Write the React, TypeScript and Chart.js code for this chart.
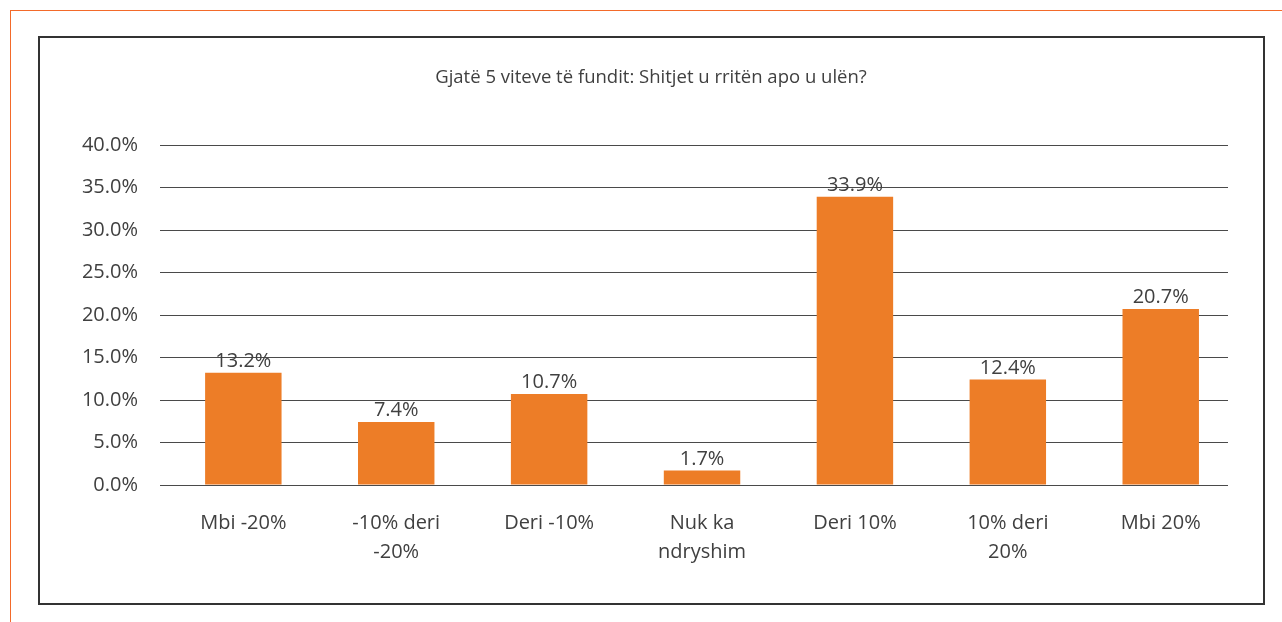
import React, { useEffect, useRef } from "react";
import { Chart, registerables } from "chart.js";

Chart.register(...registerables);

const TITLE = "Gjatë 5 viteve të fundit: Shitjet u rritën apo u ulën?";
const categories: string[][] = [
  ["Mbi -20%"],
  ["-10% deri", "-20%"],
  ["Deri -10%"],
  ["Nuk ka", "ndryshim"],
  ["Deri 10%"],
  ["10% deri", "20%"],
  ["Mbi 20%"],
];
const values: number[] = [13.2, 7.4, 10.7, 1.7, 33.9, 12.4, 20.7];
const yMin = 0;
const yMax = 40;
const yStep = 5;

const FONT = "'Open Sans', 'Noto Sans', sans-serif";
const TEXT = "#404040";
const BAR = "#ED7D27";

const labelsPlugin = {
  id: "extras",
  afterDatasetsDraw(chart: any) {
    const ctx = chart.ctx;
    ctx.save();
    ctx.fillStyle = TEXT;
    ctx.font = `20px ${FONT}`;
    ctx.textAlign = "center";
    ctx.textBaseline = "alphabetic";
    const meta = chart.getDatasetMeta(0);
    meta.data.forEach((bar: any, i: number) => {
      ctx.fillText(values[i].toFixed(1) + "%", bar.x, bar.y - 6);
    });
    ctx.font = `18.5px ${FONT}`;
    ctx.textBaseline = "middle";
    ctx.fillText(TITLE, 651, 78);
    ctx.restore();
  },
};

export default function App() {
  const ref = useRef<HTMLCanvasElement>(null);
  useEffect(() => {
    if (!ref.current) return;
    const points = values.map((v, i) => ({ x: i, y: v }));
    const chart = new Chart(ref.current, {
      type: "bar",
      data: {
        datasets: [
          {
            data: points as any,
            backgroundColor: BAR,
            barPercentage: 0.5,
            categoryPercentage: 1,
          },
        ],
      },
      options: {
        animation: false,
        responsive: false,
        maintainAspectRatio: false,
        layout: { padding: { left: 40, right: 54, top: 145, bottom: 37 } },
        plugins: { legend: { display: false }, tooltip: { enabled: false }, title: { display: false } },
        scales: {
          x: {
            type: "linear",
            min: -0.545,
            max: categories.length - 0.56,
            offset: false,
            grid: { display: false },
            border: { display: false },
            afterBuildTicks: (s: any) => {
              s.ticks = categories.map((_, i) => ({ value: i }));
            },
            ticks: {
              color: TEXT,
              font: { family: FONT, size: 20, lineHeight: 1.45 },
              padding: 16,
              maxRotation: 0,
              autoSkip: false,
              callback: (v: any) => categories[Math.round(Number(v))] || "",
            },
            afterFit: (s: any) => {
              s.height = 100;
            },
          },
          y: {
            min: yMin,
            max: yMax,
            grid: { color: "#4a4a4a", lineWidth: 1, drawTicks: false },
            border: { display: false },
            ticks: {
              stepSize: yStep,
              color: TEXT,
              padding: 22,
              font: { family: FONT, size: 20 },
              callback: (v: any) => Number(v).toFixed(1) + "%",
            },
            afterFit: (s: any) => {
              s.width = 120;
            },
          },
        },
      },
      plugins: [labelsPlugin],
    });
    return () => chart.destroy();
  }, []);
  return (
    <div style={{ position: "absolute", left: 0, top: 0, width: 1282, height: 622, background: "#fff", overflow: "hidden" }}>
      <div
        style={{
          position: "absolute",
          left: 10,
          top: 10,
          width: 1300,
          height: 700,
          borderTop: "1px solid #F36A2A",
          borderLeft: "1px solid #F36A2A",
        }}
      />
      <div
        style={{
          position: "absolute",
          left: 38,
          top: 36,
          width: 1227,
          height: 569,
          boxSizing: "border-box",
          border: "2px solid #333",
        }}
      />
      <canvas ref={ref} width={1282} height={622} style={{ position: "absolute", left: 0, top: 0 }} />
    </div>
  );
}
